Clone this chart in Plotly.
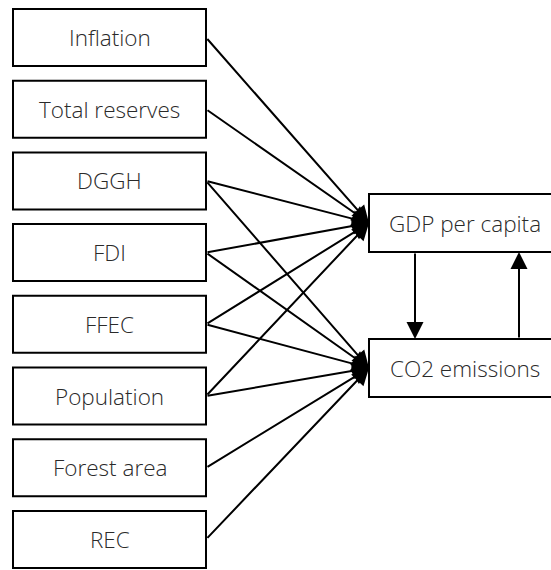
import plotly.graph_objects as go

# Data
left_nodes = ["Inflation", "Total reserves", "DGGH", "FDI", "FFEC",
              "Population", "Forest area", "REC"]
right_nodes = ["GDP per capita", "CO2 emissions"]
# edges: (source, target)
edges = [
    ("Inflation", "GDP per capita"),
    ("Total reserves", "GDP per capita"),
    ("DGGH", "GDP per capita"), ("DGGH", "CO2 emissions"),
    ("FDI", "GDP per capita"), ("FDI", "CO2 emissions"),
    ("FFEC", "GDP per capita"), ("FFEC", "CO2 emissions"),
    ("Population", "GDP per capita"), ("Population", "CO2 emissions"),
    ("Forest area", "CO2 emissions"),
    ("REC", "CO2 emissions"),
]
feedback = [("GDP per capita", "CO2 emissions"), ("CO2 emissions", "GDP per capita")]

# the diagram is wider than the 551px window; its right side is cropped
W, H = 600, 570
FONT = "Open Sans"
FSIZE = 22.5

# layout geometry
L_X0, L_X1 = 13, 206
L_TOP0, L_STEP, L_H = 9, 71.7, 57
R_X0, R_X1 = 369, 561
R_BOX = {"GDP per capita": (194, 252), "CO2 emissions": (339, 397)}

fig = go.Figure()
shapes, annotations = [], []
txt_font = dict(family=FONT, size=FSIZE, color="#2a2a2a", weight=300)

left_center = {}
for i, name in enumerate(left_nodes):
    y0 = L_TOP0 + i * L_STEP
    y1 = y0 + L_H
    shapes.append(dict(type="rect", xref="x", yref="y", x0=L_X0, x1=L_X1, y0=y0, y1=y1,
                       line=dict(color="black", width=2), fillcolor="white", layer="above"))
    annotations.append(dict(x=(L_X0 + L_X1) / 2, y=(y0 + y1) / 2, xref="x", yref="y",
                            text=name, showarrow=False, font=txt_font))
    left_center[name] = (L_X1, (y0 + y1) / 2)

right_center = {}
for name in right_nodes:
    y0, y1 = R_BOX[name]
    shapes.append(dict(type="rect", xref="x", yref="y", x0=R_X0, x1=R_X1, y0=y0, y1=y1,
                       line=dict(color="black", width=2), fillcolor="white", layer="above"))
    annotations.append(dict(x=(R_X0 + R_X1) / 2, y=(y0 + y1) / 2, xref="x", yref="y",
                            text=name, showarrow=False, font=txt_font))
    right_center[name] = (R_X0, (y0 + y1) / 2)

for s, t in edges:
    sx, sy = left_center[s]
    tx, ty = right_center[t]
    annotations.append(dict(x=tx, y=ty, ax=sx, ay=sy, xref="x", yref="y",
                            axref="x", ayref="y", text="", showarrow=True,
                            arrowhead=2, arrowsize=1.7, arrowwidth=2,
                            arrowcolor="black", standoff=0))

# feedback arrows
fx = {"GDP per capita": 415, "CO2 emissions": 519}
for s, t in feedback:
    x = fx[s]
    down = R_BOX[s][0] < R_BOX[t][0]
    sy = R_BOX[s][1] if down else R_BOX[s][0]
    ty = R_BOX[t][0] if down else R_BOX[t][1]
    annotations.append(dict(x=x, y=ty, ax=x, ay=sy, xref="x", yref="y",
                            axref="x", ayref="y", text="", showarrow=True,
                            arrowhead=2, arrowsize=1.7, arrowwidth=2,
                            arrowcolor="black", standoff=0))

fig.update_layout(
    width=W, height=H, margin=dict(l=0, r=0, t=0, b=0),
    paper_bgcolor="white", plot_bgcolor="white",
    xaxis=dict(range=[0, W], visible=False, fixedrange=True),
    yaxis=dict(range=[H, 0], visible=False, fixedrange=True),
    shapes=shapes, annotations=annotations, showlegend=False,
)
fig.write_html("out.html", config={"displayModeBar": False})

# remove default page margin so the figure sits at the window origin
with open("out.html", "r", encoding="utf-8") as f:
    html = f.read()
html = html.replace("<body>", '<body style="margin:0;padding:0;overflow:hidden">', 1)
with open("out.html", "w", encoding="utf-8") as f:
    f.write(html)
